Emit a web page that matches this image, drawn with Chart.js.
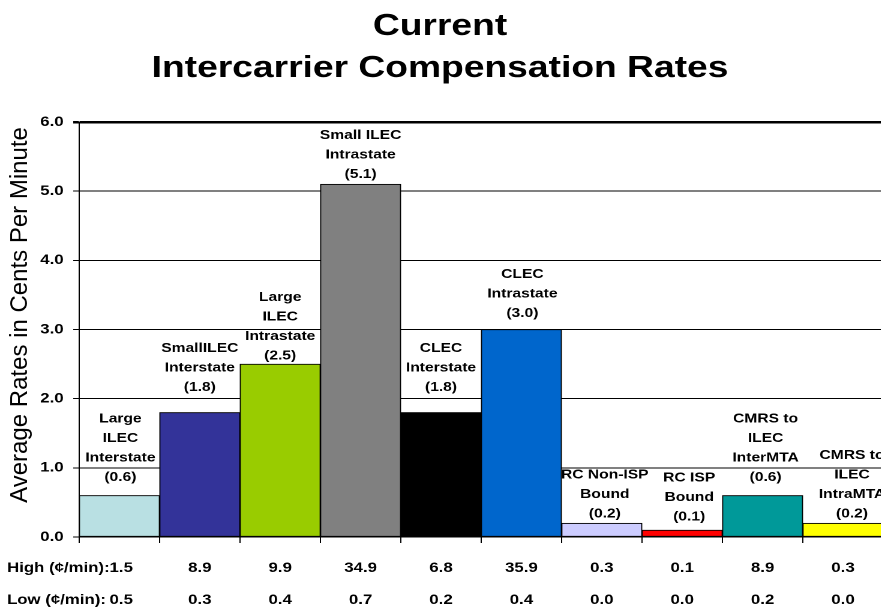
<!DOCTYPE html>
<html>
<head>
<meta charset="utf-8">
<title>Intercarrier Compensation Rates</title>
<script src="https://cdn.jsdelivr.net/npm/chart.js@4.4.1/dist/chart.umd.min.js"></script>
<style>
html,body{margin:0;padding:0;background:#fff;width:881px;height:609px;overflow:hidden}
/* the original picture is stretched sideways, so the canvas is drawn narrow and widened here */
#wrap{position:absolute;left:0;top:0;width:736px;height:609px;transform:scaleX(1.2);transform-origin:0 0}
</style>
</head>
<body>
<div id="wrap"><canvas id="c"></canvas></div>
<script>
var SX=1.2;
var FONT='"Liberation Sans", Arial, Helvetica, sans-serif';

// data
var NAMES=[['Large','ILEC','Interstate'],['SmallILEC','Interstate'],['Large','ILEC','Intrastate'],['Small ILEC','Intrastate'],
  ['CLEC','Interstate'],['CLEC','Intrastate'],['RC Non-ISP','Bound'],['RC ISP','Bound'],['CMRS to','ILEC','InterMTA'],['CMRS to','ILEC','IntraMTA']];
var RATES=[0.6,1.8,2.5,5.1,1.8,3.0,0.2,0.1,0.6,0.2];
var HIGH=['1.5','8.9','9.9','34.9','6.8','35.9','0.3','0.1','8.9','0.3'];
var LOW=['0.5','0.3','0.4','0.7','0.2','0.4','0.0','0.0','0.2','0.0'];
var COLORS=['#b9e0e3','#333399','#99cc00','#808080','#000000','#0066cc','#ccccff','#ff0000','#009999','#ffff00'];
var TITLE=['Current','Intercarrier Compensation Rates'];
var YTITLE='Average Rates in Cents Per Minute';
var HIGH_LBL='High (\u00a2/min):', LOW_LBL='Low (\u00a2/min):';

// hand-placed text boxes above the bars (gap above bar top, sideways nudge), in screen px
var LBL_GAP=[18,25,8,10,25,16,9,13,18,9];
var LBL_DX=[1,0,0,0,0,1,3,7,3,9];

var textPlugin={
  id:'texts',
  afterDatasetsDraw:function(ch){
    var c=ch.ctx, xs=ch.scales.x, ys=ch.scales.y;
    c.save();
    c.fillStyle='#000';
    // titles
    c.font='bold 31px '+FONT; c.textAlign='center'; c.textBaseline='alphabetic';
    c.fillText(TITLE[0],440/SX,35);
    c.fillText(TITLE[1],440/SX,77);
    // labels above bars
    c.font='bold 13px '+FONT; c.textBaseline='middle';
    RATES.forEach(function(v,i){
      var lines=NAMES[i].concat(['('+v.toFixed(1)+')']);
      var x=xs.getPixelForValue(i)+LBL_DX[i]/SX;
      var yb=ys.getPixelForValue(v)-LBL_GAP[i];
      for(var k=0;k<lines.length;k++){
        c.fillText(lines[k],x,yb-(lines.length-1-k)*19.5);
      }
    });
    // high / low rows under the axis
    c.font='bold 14px '+FONT;
    c.textAlign='left';
    c.fillText(HIGH_LBL,7/SX,568);
    c.fillText(LOW_LBL,7/SX,600);
    c.textAlign='center';
    HIGH.forEach(function(h,i){ c.fillText(h,xs.getPixelForValue(i)+(i===0?1.5:0),568); });
    LOW.forEach(function(l,i){ c.fillText(l,xs.getPixelForValue(i)+(i===0?1.5:0),600); });
    // y axis title, drawn unstretched
    c.translate(27/SX,315); c.scale(1/SX,1); c.rotate(-Math.PI/2);
    c.font='24px '+FONT; c.textAlign='center'; c.textBaseline='alphabetic';
    c.fillText(YTITLE,0,0);
    c.restore();
  }
};

new Chart(document.getElementById('c'),{
  type:'bar',
  data:{labels:NAMES.map(function(n){return n.join(' ');}),datasets:[{
    data:RATES,backgroundColor:COLORS,borderColor:'#000',borderWidth:1,borderSkipped:false,
    barPercentage:1,categoryPercentage:1}]},
  options:{
    responsive:true,maintainAspectRatio:false,animation:false,devicePixelRatio:2,
    layout:{padding:{top:122,left:0,right:0,bottom:62}},
    plugins:{legend:{display:false},tooltip:{enabled:false},title:{display:false}},
    scales:{
      x:{ticks:{display:false},
        grid:{drawOnChartArea:false,drawTicks:true,tickLength:6,color:'#000',offset:true},
        border:{color:'#000',width:1},
        afterFit:function(s){s.height=10;}},
      y:{min:0,max:6,
        ticks:{stepSize:1,padding:8,color:'#000',font:{family:FONT,size:14,weight:'bold'},
          callback:function(v){return Number(v).toFixed(1);}},
        grid:{color:'#000',tickLength:5,lineWidth:function(ctx){return ctx.tick&&ctx.tick.value===6?2.5:1;}},
        border:{color:'#000',width:1},
        afterFit:function(s){s.width=66;}}
    }
  },
  plugins:[textPlugin]
});
</script>
</body>
</html>
